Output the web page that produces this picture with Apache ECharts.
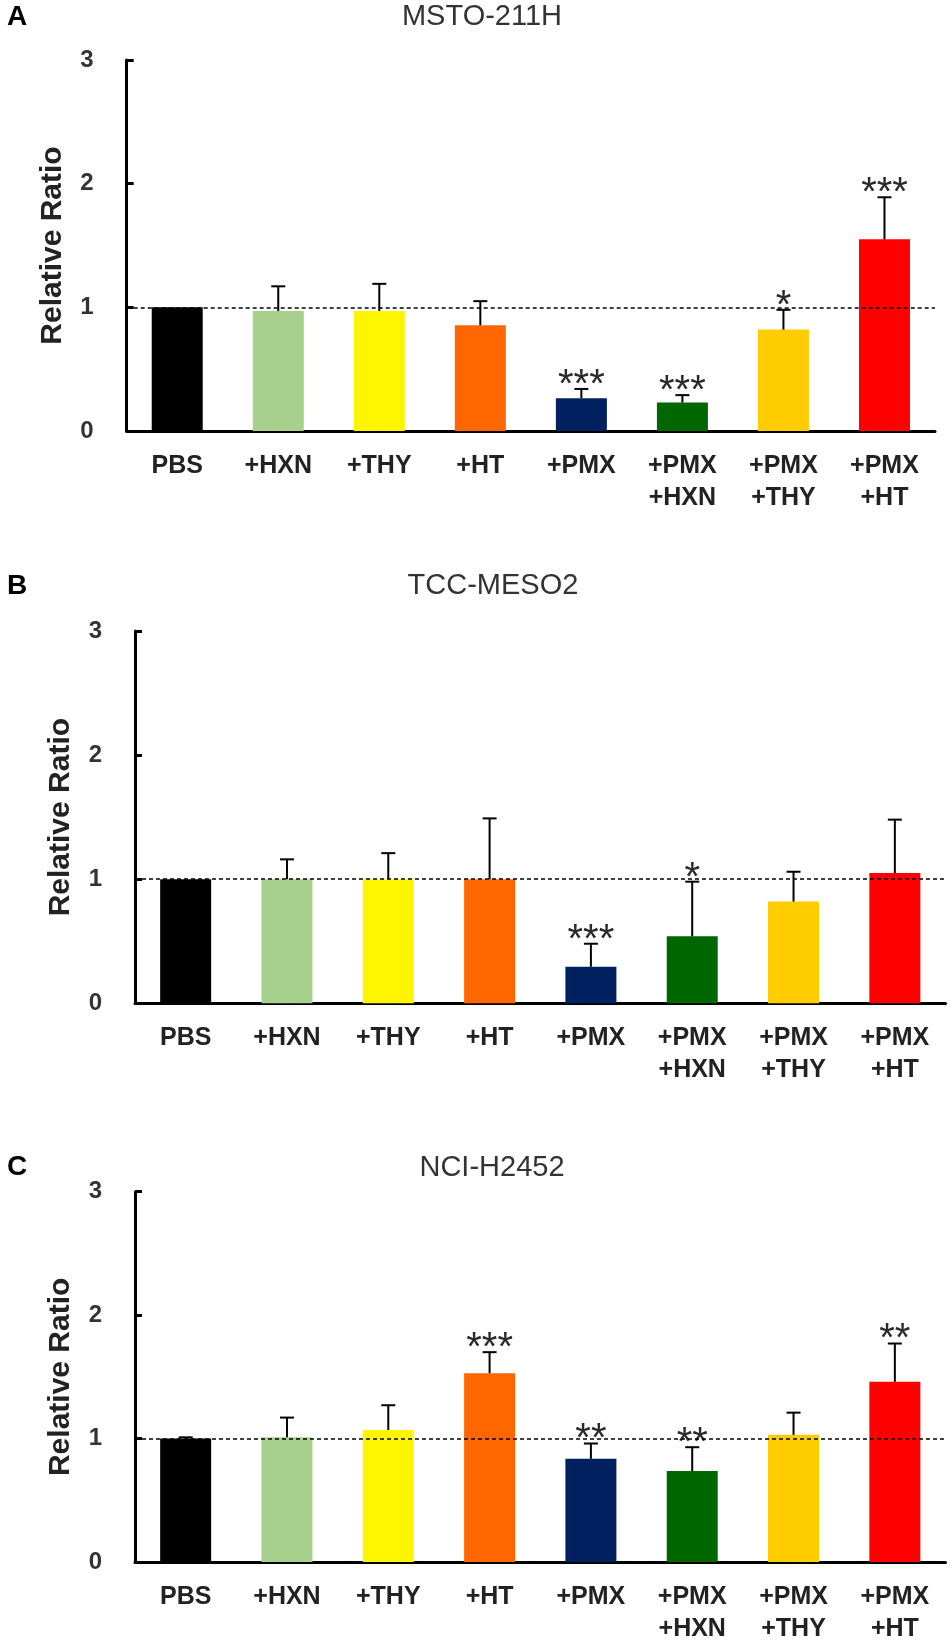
<!DOCTYPE html>
<html>
<head>
<meta charset="utf-8">
<script src="https://cdn.jsdelivr.net/npm/echarts@6/dist/echarts.min.js"></script>
<style>
html,body{margin:0;padding:0;background:#fff;}
#chart{width:952px;height:1645px;}
</style>
</head>
<body>
<div id="chart"></div>
<script>
// ---- data ----
const categories = ['PBS', '+HXN', '+THY', '+HT', '+PMX', '+PMX\n+HXN', '+PMX\n+THY', '+PMX\n+HT'];
const panelLetters = ['A', 'B', 'C'];
const panelTitles = ['MSTO-211H', 'TCC-MESO2', 'NCI-H2452'];
const yTicks = [0, 1, 2, 3];
const yName = 'Relative Ratio';

const valuesA = [1.00, 0.97, 0.97, 0.855, 0.265, 0.23, 0.82, 1.55];
const errorsA = [0, 0.20, 0.22, 0.195, 0.075, 0.06, 0.16, 0.34];
const starsA = ['', '', '', '', '***', '***', '*', '***'];

const valuesB = [1.00, 1.00, 1.00, 1.00, 0.295, 0.54, 0.82, 1.05];
const errorsB = [0, 0.16, 0.21, 0.49, 0.185, 0.44, 0.24, 0.43];
const starsB = ['', '', '', '', '***', '*', '', ''];

const valuesC = [1.00, 1.01, 1.07, 1.53, 0.836, 0.737, 1.03, 1.46];
const errorsC = [0.01, 0.16, 0.20, 0.17, 0.124, 0.193, 0.18, 0.31];
const starsC = ['', '', '', '***', '**', '**', '', '**'];

const referenceLevel = 1;

// ---- styles ----
const barColors = ['#000000', '#a8d08d', '#fff500', '#ff6600', '#002060', '#006600', '#ffcc00', '#ff0000'];
const FONT = 'Liberation Sans, Arial, Helvetica, sans-serif';

const panels = [
  { values: valuesA, errors: errorsA, stars: starsA },
  { values: valuesB, errors: errorsB, stars: starsB },
  { values: valuesC, errors: errorsC, stars: starsC }
];

const grids = [
  { left: 126.7, right: 17, top: 60, height: 371 },
  { left: 135, right: 6.5, top: 631, height: 372.3 },
  { left: 135, right: 6.5, top: 1191.7, height: 373.3 }
];
const titlePos = [[482, 17], [493, 586], [492, 1167.5]];
const letterPos = [[17, 17], [17, 586], [17, 1167.5]];

const STAR_FS = 40;

function makeErrRender(stars) {
  return function (params, api) {
    const i = api.value(0), v = api.value(1), e = api.value(2);
    const s = stars[params.dataIndex];
    const p0 = api.coord([i, v]);
    const p1 = api.coord([i, v + e]);
    const children = [];
    if (e > 0) {
      children.push({ type: 'line', shape: { x1: p0[0], y1: p0[1], x2: p1[0], y2: p1[1] }, style: { stroke: '#000', lineWidth: 2 } });
      children.push({ type: 'line', shape: { x1: p1[0] - 7, y1: p1[1], x2: p1[0] + 7, y2: p1[1] }, style: { stroke: '#000', lineWidth: 2 } });
    }
    if (s) {
      children.push({
        type: 'text', x: p1[0], y: p1[1] - 12 + 0.22 * STAR_FS,
        style: { text: s, fontSize: STAR_FS, fontFamily: FONT, align: 'center', verticalAlign: 'middle', fill: '#2a2a2a' }
      });
    }
    return { type: 'group', children: children };
  };
}

const xAxes = [], yAxes = [], series = [], graphics = [];
panels.forEach((p, k) => {
  xAxes.push({
    type: 'category', gridIndex: k, data: categories,
    axisLine: { show: true, lineStyle: { color: '#000', width: 3 } },
    axisTick: { show: false },
    axisLabel: { interval: 0, margin: 19, fontSize: 25, fontWeight: 'bold', fontFamily: FONT, color: '#222', lineHeight: 32 }
  });
  yAxes.push({
    type: 'value', gridIndex: k, min: yTicks[0], max: yTicks[yTicks.length - 1], interval: 1,
    splitLine: { show: false },
    axisLine: { show: true, lineStyle: { color: '#000', width: 3 } },
    axisTick: { show: true, inside: true, length: 7, lineStyle: { color: '#000', width: 3 } },
    axisLabel: { margin: 33, fontSize: 24, fontWeight: 'bold', fontFamily: FONT, color: '#333' },
    name: yName, nameLocation: 'middle', nameGap: 59,
    nameTextStyle: { fontSize: 30, fontWeight: 'bold', fontFamily: FONT, color: '#222' }
  });
  series.push({
    type: 'bar', xAxisIndex: k, yAxisIndex: k, barWidth: 51,
    data: p.values.map((v, i) => ({ value: v, itemStyle: { color: barColors[i] } })),
    markLine: {
      silent: true, symbol: 'none', z: 10,
      label: { show: false },
      lineStyle: { color: '#000', type: [4, 3], width: 1.5 },
      data: [{ yAxis: referenceLevel }]
    }
  });
  series.push({
    type: 'custom', xAxisIndex: k, yAxisIndex: k, z: 6,
    renderItem: makeErrRender(p.stars),
    data: p.values.map((v, i) => [i, v, p.errors[i]])
  });
  graphics.push({
    type: 'text', x: titlePos[k][0], y: titlePos[k][1],
    style: { text: panelTitles[k], fontSize: 29, fontFamily: FONT, align: 'center', verticalAlign: 'middle', fill: '#333' }
  });
  graphics.push({
    type: 'text', x: letterPos[k][0], y: letterPos[k][1],
    style: { text: panelLetters[k], fontSize: 28, fontWeight: 'bold', fontFamily: FONT, align: 'center', verticalAlign: 'middle', fill: '#000' }
  });
});

const chart = echarts.init(document.getElementById('chart'));
chart.setOption({
  animation: false,
  backgroundColor: '#fff',
  grid: grids,
  xAxis: xAxes,
  yAxis: yAxes,
  series: series,
  graphic: graphics
});
</script>
</body>
</html>
